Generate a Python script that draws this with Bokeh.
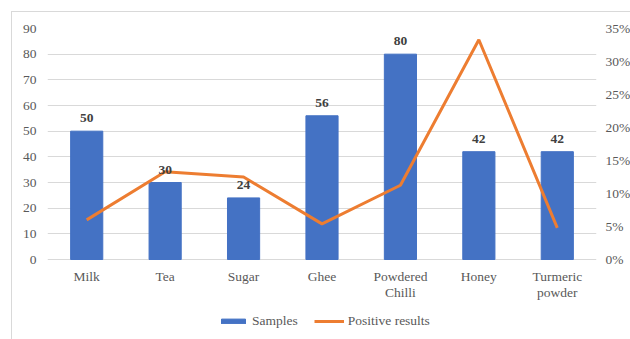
from bokeh.plotting import figure
from bokeh.models import (Range1d, LinearAxis, FixedTicker, NumeralTickFormatter,
                          ColumnDataSource, Legend, LegendItem)
from bokeh.core.properties import value
from bokeh.embed import file_html
from bokeh.resources import INLINE

categories = ["Milk", "Tea", "Sugar", "Ghee", "Powdered\nChilli", "Honey", "Turmeric\npowder"]
samples = [50, 30, 24, 56, 80, 42, 42]
positive_results = [0.06, 0.133, 0.125, 0.054, 0.1125, 0.333, 0.048]
left_ticks = [0, 10, 20, 30, 40, 50, 60, 70, 80, 90]
right_ticks = [0, 0.05, 0.10, 0.15, 0.20, 0.25, 0.30, 0.35]

FONT = "'Liberation Serif', serif"
TXT = "#595959"
BLUE = "#4472C4"
ORANGE = "#ED7D31"
GRID = "#D9D9D9"

# layout: the frame reaches down to the canvas bottom so that category labels
# and legend can be drawn inside it; value 0 sits 80 px above the bottom
PLOT_PX = 231
BELOW_PX = 80
ymin_left = -90 * BELOW_PX / PLOT_PX
ymin_right = -0.35 * BELOW_PX / PLOT_PX

src = ColumnDataSource(dict(cat=categories, samples=samples, pos=positive_results,
                            lbl=[str(v) for v in samples], zero=[0] * len(categories)))

p = figure(x_range=categories, y_range=Range1d(ymin_left, 90),
           frame_width=549, frame_height=PLOT_PX + BELOW_PX,
           output_backend="svg", toolbar_location=None, x_axis_location=None,
           min_border_left=35, min_border_right=34, min_border_top=16, min_border_bottom=0,
           margin=(11, 0, 0, 11),
           styles={"border-left": "1px solid #D9D9D9", "border-top": "1px solid #D9D9D9"})
p.outline_line_color = None
p.extra_y_ranges = {"pct": Range1d(ymin_right, 0.35)}
p.x_range.range_padding = 0

bars = p.vbar(x="cat", top="samples", width=0.41, color=BLUE, source=src)
line = p.line(x="cat", y="pos", y_range_name="pct", line_color=ORANGE, line_width=3, source=src)
p.text(x="cat", y="samples", text="lbl", source=src, text_align="center", text_baseline="bottom",
       y_offset=-9, text_font=value(FONT), text_font_size="13.5px", text_font_style="bold",
       text_color="#404040")

# category labels under the baseline
p.text(x="cat", y="zero", text="cat", source=src, text_align="center", text_baseline="top",
       y_offset=9, text_font=value(FONT), text_font_size="13.5px", text_color=TXT,
       text_line_height=1.12)

p.yaxis.ticker = FixedTicker(ticks=left_ticks)
p.yaxis.axis_line_color = None
p.yaxis.major_tick_line_color = None
p.yaxis.major_tick_out = 0
p.yaxis.major_tick_in = 0
p.yaxis.minor_tick_line_color = None
p.yaxis.major_label_text_font = FONT
p.yaxis.major_label_text_font_size = "13.5px"
p.yaxis.major_label_text_color = TXT
p.yaxis.major_label_standoff = 11

ra = LinearAxis(y_range_name="pct", ticker=FixedTicker(ticks=right_ticks),
                formatter=NumeralTickFormatter(format="0%"))
ra.axis_line_color = None
ra.major_tick_line_color = None
ra.major_tick_out = 0
ra.major_tick_in = 0
ra.minor_tick_line_color = None
ra.major_label_text_font = FONT
ra.major_label_text_font_size = "13.5px"
ra.major_label_text_color = TXT
ra.major_label_standoff = 9
p.add_layout(ra, "right")

p.xgrid.grid_line_color = None
p.ygrid.grid_line_color = GRID
p.ygrid.ticker = FixedTicker(ticks=left_ticks)

legend = Legend(items=[LegendItem(label="Samples", renderers=[bars]),
                       LegendItem(label="Positive results", renderers=[line])],
                orientation="horizontal", location=(171, 10),
                label_text_font=FONT, label_text_font_size="13.5px", label_text_color=TXT,
                glyph_width=30, glyph_height=6, label_standoff=4, spacing=16,
                label_height=16, border_line_color=None, background_fill_alpha=0,
                padding=4, margin=0)
p.add_layout(legend, "center")

open("out.html", "w").write(file_html(p, INLINE))
